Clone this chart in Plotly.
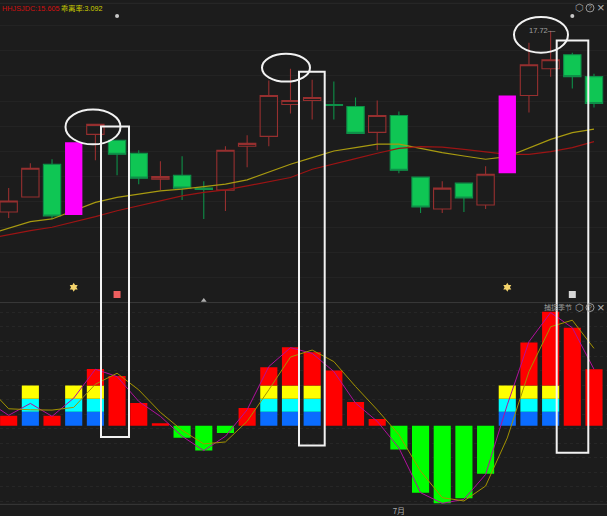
import plotly.graph_objects as go

W, H = 607, 516
BG = "#1c1c1c"
YS = 1.011  # vertical correction for the captured page

idx = list(range(28))
line_idx = list(range(-1, 28))

# candles (None entries are drawn as the magenta bars)
opens = [13.17, 13.545, 14.37, None, 15.12, 14.97, 14.645, 13.995, 14.095, 13.77, 13.72, 14.82, 15.07, 15.87,
         15.97, 15.87, 15.82, 15.17, 15.595, 14.045, 13.245, 13.895, 13.345, None, 16.095, 16.77, 17.12, 16.57]
highs = [13.77, 14.395, 14.495, None, 15.37, 14.97, 14.72, 14.445, 14.57, 13.945, 14.82, 15.095, 16.47, 16.77,
         16.495, 16.445, 16.045, 15.97, 15.695, 14.045, 13.945, 13.895, 14.32, None, 17.42, 17.72, 17.17, 16.645]
lows = [13.02, 13.545, 12.995, None, 14.47, 14.095, 13.87, 13.72, 13.47, 12.995, 13.195, 14.295, 14.82, 15.645,
        15.495, 15.495, 15.145, 14.72, 14.145, 13.145, 13.145, 13.17, 13.245, None, 15.67, 16.57, 16.27, 15.795]
closes = [13.445, 14.27, 13.07, None, 15.37, 14.62, 14.02, 14.058, 13.77, 13.738, 14.72, 14.895, 16.095, 15.97,
          16.045, 15.845, 15.145, 15.595, 14.22, 13.295, 13.77, 13.52, 14.12, None, 16.87, 16.995, 16.57, 15.895]

magenta_idx = [3, 23]
magenta_low = [13.095, 14.145]
magenta_high = [14.92, 16.095]

ma_yellow = [12.595, 12.77, 12.927, 12.995, 13.202, 13.412, 13.537, 13.62, 13.702, 13.745, 13.802, 13.87, 13.977,
             14.177, 14.37, 14.537, 14.702, 14.787, 14.877, 14.877, 14.762, 14.662, 14.577, 14.495, 14.562, 14.787,
             14.995, 15.162, 15.252]
ma_red = [12.495, 12.602, 12.702, 12.787, 12.912, 13.052, 13.202, 13.327, 13.47, 13.577, 13.662, 13.727, 13.827,
          13.927, 14.037, 14.245, 14.37, 14.512, 14.645, 14.77, 14.812, 14.802, 14.745, 14.677, 14.62, 14.62, 14.687,
          14.787, 14.937]

# lower panel
blue = [0, 14, 0, 14, 14, 0, 0, 0, 0, 0, 0, 0, 14, 14, 14, 0, 0, 0, 0, 0, 0, 0, 0, 14, 14, 14, 0, 0]
cyan = [0, 13, 0, 13, 13, 0, 0, 0, 0, 0, 0, 0, 13, 13, 13, 0, 0, 0, 0, 0, 0, 0, 0, 13, 13, 13, 0, 0]
yellow = [0, 13.5, 0, 13.5, 13.5, 0, 0, 0, 0, 0, 0, 0, 13.5, 13.5, 13.5, 0, 0, 0, 0, 0, 0, 0, 0, 13.5, 13.5, 13.5, 0, 0]
red = [10, 0, 10, 0, 16.5, 50, 22.7, 2.4, 0, 0, 0, 17.7, 18.2, 38.2, 33.2, 55.4, 23.7, 6.7, 0, 0, 0, 0, 0, 0, 43.2,
       73.9, 98.4, 56.7]
green = [0, 0, 0, 0, 0, 0, 0, 0, -12, -25, -7.3, 0, 0, 0, 0, 0, 0, 0, -24, -67.3, -78, -73, -48.3, 0, 0, 0, 0, 0]

line_magenta = [25, 10.4, 22.4, 9.4, 27.7, 56.7, 49.4, 24.4, 9.4, -10.6, -25, -10.6, 16, 59.4, 78.4, 72.7, 54.4,
                22.7, 4.4, -22.3, -67.3, -78, -74, -49, 21, 84.4, 113.7, 98.4, 56.7]
line_yellow = [40, 17, 16, 15.7, 18.4, 41.7, 52.7, 36, 13.4, -4.6, -18.3, -16.3, 4.4, 36, 69, 76, 64.4, 39.4, 16,
               -9, -45.6, -72.3, -75.6, -60.6, -12.3, 54.4, 99.4, 106, 77.7]

x_ticks = [18]
x_labels = ["7月"]


def px(x, y):
    return x / W, 1 - y * YS / H


fig = go.Figure()

fig.add_trace(go.Candlestick(
    x=idx, open=opens, high=highs, low=lows, close=closes, xaxis="x", yaxis="y", whiskerwidth=0,
    increasing=dict(line=dict(color="#962f2f", width=1.1), fillcolor="rgba(0,0,0,0)"),
    decreasing=dict(line=dict(color="#0e8f48", width=1.1), fillcolor="#0fc654"),
    showlegend=False, hoverinfo="skip"))
fig.add_trace(go.Scatter(x=line_idx, y=ma_yellow, mode="lines", line=dict(color="#a89a10", width=1.2),
                         xaxis="x", yaxis="y", showlegend=False, hoverinfo="skip"))
fig.add_trace(go.Scatter(x=line_idx, y=ma_red, mode="lines", line=dict(color="#9c1414", width=1.2),
                         xaxis="x", yaxis="y", showlegend=False, hoverinfo="skip"))
# markers
fig.add_trace(go.Scatter(x=[3, 23], y=[11.28, 11.28], mode="markers",
                         marker=dict(symbol="hexagram", size=7, color="#f3d36b"),
                         xaxis="x", yaxis="y", showlegend=False, hoverinfo="skip"))
fig.add_trace(go.Scatter(x=[5], y=[11.095], mode="markers",
                         marker=dict(symbol="square", size=7, color="#ee6060"),
                         xaxis="x", yaxis="y", showlegend=False, hoverinfo="skip"))
fig.add_trace(go.Scatter(x=[26], y=[11.095], mode="markers",
                         marker=dict(symbol="square", size=7, color="#d6d6d6"),
                         xaxis="x", yaxis="y", showlegend=False, hoverinfo="skip"))
fig.add_trace(go.Scatter(x=[5, 26], y=[18.095, 18.095], mode="markers",
                         marker=dict(symbol="circle", size=4, color="#c8c8c8"),
                         xaxis="x", yaxis="y", showlegend=False, hoverinfo="skip"))
fig.add_trace(go.Scatter(x=[9], y=[10.945], mode="markers",
                         marker=dict(symbol="triangle-up", size=5, color="#b0b0b0"),
                         xaxis="x", yaxis="y", showlegend=False, hoverinfo="skip"))

# magenta candles sit above the moving averages
fig.add_trace(go.Bar(x=magenta_idx, base=magenta_low, y=[h - l for h, l in zip(magenta_high, magenta_low)],
                     width=0.8, marker=dict(color="#ff00ff", line=dict(width=0)),
                     xaxis="x", yaxis="y3", showlegend=False, hoverinfo="skip"))

for vals, col in [(blue, "#0a6cff"), (cyan, "#00ffff"), (yellow, "#ffff00"), (red, "#ff0000"), (green, "#00ff00")]:
    fig.add_trace(go.Bar(x=idx, y=vals, width=0.79, marker=dict(color=col, line=dict(width=0)),
                         xaxis="x2", yaxis="y2", showlegend=False, hoverinfo="skip"))
fig.add_trace(go.Scatter(x=line_idx, y=line_magenta, mode="lines", line=dict(color="#b0109c", width=1),
                         xaxis="x2", yaxis="y2", showlegend=False, hoverinfo="skip"))
fig.add_trace(go.Scatter(x=line_idx, y=line_yellow, mode="lines", line=dict(color="#a39300", width=1),
                         xaxis="x2", yaxis="y2", showlegend=False, hoverinfo="skip"))

shapes = []
for x0, y0, x1, y1 in [(65.5, 110, 120.5, 145), (262, 54, 310, 82), (514, 17, 568, 53)]:
    a, b = px(x0, y0)
    c, d = px(x1, y1)
    shapes.append(dict(type="circle", xref="paper", yref="paper", x0=a, y0=b, x1=c, y1=d,
                       line=dict(color="#f2f2f2", width=2), layer="above"))
for x0, y0, x1, y1 in [(101, 127, 129, 439), (299, 72, 324.7, 447.7), (556.7, 40.7, 588.3, 455)]:
    a, b = px(x0, y0)
    c, d = px(x1, y1)
    shapes.append(dict(type="rect", xref="paper", yref="paper", x0=a, y0=b, x1=c, y1=d,
                       line=dict(color="#f2f2f2", width=2), layer="above"))
for yy, col in [(3.3, "#2a2a2a"), (304, "#3a3a3a"), (506.7, "#3a3a3a")]:
    _, b = px(0, yy)
    shapes.append(dict(type="line", xref="paper", yref="paper", x0=0, x1=1, y0=b, y1=b,
                       line=dict(color=col, width=1), layer="below"))
for cy in (8, 309):
    a, b = px(590 - 4, cy - 4)
    c, d = px(590 + 4, cy + 4)
    shapes.append(dict(type="circle", xref="paper", yref="paper", x0=a, y0=b, x1=c, y1=d,
                       line=dict(color="#9a9a9a", width=1), layer="above"))

LAT = "Liberation Sans, Noto Sans CJK SC"


def note(x, y, text, color, size=10, anchor="left"):
    a, b = px(x, y)
    return dict(xref="paper", yref="paper", x=a, y=b, text=text, showarrow=False, xanchor=anchor, yanchor="middle",
                font=dict(color=color, size=size, family=LAT))


annotations = [
    note(0, 9, "HHJSJDC:15.605", "#d01010", 7.3),
    note(59, 9, "乖离率:3.092", "#d0d000", 7.2),
    note(527, 31, "17.72—", "#a0a0a0", 7.5),
    note(542, 309, "捕捉季节", "#9a9a9a", 7),
]
for cy in (8, 309):
    annotations += [note(579, cy, "⬡", "#9a9a9a", 10, "center"),
                    note(590, cy, "?", "#9a9a9a", 7, "center"),
                    note(601, cy, "×", "#b0b0b0", 13, "center")]

low_split = 1 - 304 * YS / H
bottom = 1 - 507 * YS / H
fig.update_layout(
    width=W, height=H, margin=dict(l=0, r=0, t=0, b=0), paper_bgcolor=BG, plot_bgcolor=BG,
    barmode="relative", boxgap=0.2, boxgroupgap=0, shapes=shapes, annotations=annotations, showlegend=False,
    xaxis=dict(domain=[0, 1], range=[-0.4, 27.6], anchor="y", showgrid=False, zeroline=False, showticklabels=False,
               rangeslider=dict(visible=False), ticks=""),
    yaxis=dict(domain=[low_split, 1], range=[10.895, 18.495], anchor="x", tick0=17.8525, dtick=0.633,
               showgrid=True, gridcolor="#232323", gridwidth=1, zeroline=False, showticklabels=False, ticks=""),
    yaxis3=dict(domain=[low_split, 1], range=[10.895, 18.495], overlaying="y", anchor="x", showgrid=False,
                zeroline=False, showticklabels=False, ticks=""),
    xaxis2=dict(domain=[0, 1], range=[-0.4, 27.6], anchor="y2", showgrid=False, zeroline=False, ticks="",
                tickmode="array", tickvals=x_ticks, ticktext=x_labels,
                tickfont=dict(color="#a8a8a8", size=8, family="Noto Sans CJK SC")),
    yaxis2=dict(domain=[bottom, low_split], range=[-79.3, 123.7], anchor="x2", tick0=-3, dtick=14.6,
                showgrid=True, gridcolor="#262626", griddash="dot", gridwidth=1, zeroline=False,
                showticklabels=False, ticks=""),
)

page_fix = ("document.documentElement.style.overflow='hidden';"
            "document.documentElement.style.height='516px';"
            "document.documentElement.style.background='#1c1c1c';"
            "document.body.style.margin='0';document.body.style.height='516px';"
            "document.body.style.overflow='hidden';")
fig.write_html("out.html", post_script=page_fix, config=dict(displayModeBar=False))
